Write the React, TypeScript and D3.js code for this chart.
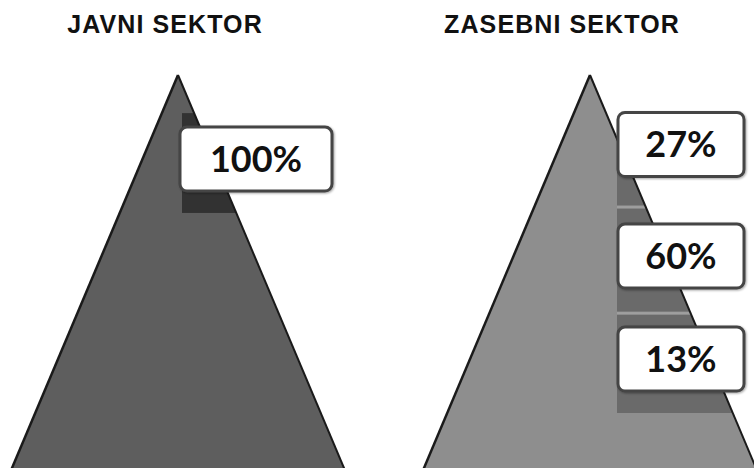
import React from "react";
import * as d3 from "d3";

const sectors = ["JAVNI SEKTOR", "ZASEBNI SEKTOR"];
const javniValues = [100];
const zasebniValues = [27, 60, 13];

const W = 754;
const H = 468;

const panels = [
  { name: sectors[0], values: javniValues, stops: [0.097, 0.351], fill: "#5e5e5e", slice: "#323232", sliceOffset: 4, boxOffset: 2, boxW: 152, titleShift: -13 },
  { name: sectors[1], values: zasebniValues, stops: [0.038, 0.336, 0.606, 0.86], fill: "#8e8e8e", slice: "#6a6a6a", sliceOffset: 27, boxOffset: 28, boxW: 126, titleShift: -28 },
];

export default function App() {
  const x = d3.scalePoint<string>().domain(sectors).range([178, 590]);
  const y = d3.scaleLinear().domain([0, 1]).range([75, 468]);
  const halfW = d3.scaleLinear().domain([0, 1]).range([0, 166]);

  return (
    <svg width={W} height={H} style={{ position: "absolute", left: 0, top: 0, background: "#fff" }}>
      <defs>
        {panels.map((p, i) => {
          const cx = x(p.name)!;
          const path = d3.line()([
            [cx, y(0)],
            [cx + halfW(1.05), y(1.05)],
            [cx - halfW(1.05), y(1.05)],
          ]) + "Z";
          return (
            <clipPath id={`clip${i}`} key={i}>
              <path d={path} />
            </clipPath>
          );
        })}
        <filter id="sh" x="-10%" y="-10%" width="120%" height="130%">
          <feDropShadow dx="1" dy="1" stdDeviation="1" floodColor="#000" floodOpacity="0.35" />
        </filter>
      </defs>
      {panels.map((p, i) => {
        const cx = x(p.name)!;
        const pts: [number, number][] = [
          [cx, y(0)],
          [cx + halfW(1.05), y(1.05)],
          [cx - halfW(1.05), y(1.05)],
        ];
        const tri = d3.line()(pts) + "Z";
        const sx = cx + p.sliceOffset;
        return (
          <g key={p.name}>
            <text
              x={cx + p.titleShift}
              y={33}
              textAnchor="middle"
              fontFamily="Liberation Sans, Arial, sans-serif"
              fontWeight="bold"
              fontSize={25}
              letterSpacing={1.1}
              fill="#111"
            >
              {p.name}
            </text>
            <path d={tri} fill={p.fill} />
            <g clipPath={`url(#clip${i})`}>
              {p.values.map((v, j) => (
                <rect
                  key={j}
                  x={sx}
                  y={y(p.stops[j])}
                  width={300}
                  height={y(p.stops[j + 1]) - y(p.stops[j])}
                  fill={p.slice}
                />
              ))}
              {p.values.slice(1).map((v, j) => (
                <rect key={"s" + j} x={sx} y={y(p.stops[j + 1]) - 1.5} width={300} height={3} fill="#b4b4b4" opacity={0.7} />
              ))}
            </g>
            <line x1={pts[0][0]} y1={pts[0][1]} x2={pts[2][0]} y2={pts[2][1]} stroke="#1a1a1a" strokeWidth={2.5} />
            <line x1={pts[0][0]} y1={pts[0][1]} x2={pts[1][0]} y2={pts[1][1]} stroke="#1a1a1a" strokeWidth={2} />
            {p.values.map((v, j) => {
              const by = (y(p.stops[j]) + y(p.stops[j + 1])) / 2 - 4;
              const bh = 64;
              return (
                <g key={"b" + j}>
                  <rect
                    x={cx + p.boxOffset}
                    y={by - bh / 2}
                    width={p.boxW}
                    height={bh}
                    rx={7}
                    fill="#fff"
                    stroke="#444"
                    strokeWidth={3}
                    filter="url(#sh)"
                  />
                  <text
                    x={cx + p.boxOffset + p.boxW / 2}
                    y={by + 13}
                    textAnchor="middle"
                    fontFamily="Lato, 'Open Sans', sans-serif"
                    fontWeight="bold"
                    fontSize={36}
                    fill="#111"
                  >
                    {`${v}%`}
                  </text>
                </g>
              );
            })}
          </g>
        );
      })}
    </svg>
  );
}
